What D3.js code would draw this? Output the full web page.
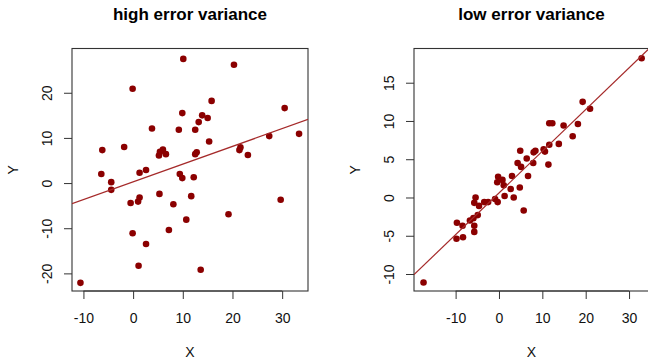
<!DOCTYPE html>
<html>
<head>
<meta charset="utf-8">
<script src="https://cdn.jsdelivr.net/npm/d3@7"></script>
<style>
  html, body { margin: 0; padding: 0; background: #fff; }
  svg { display: block; font-family: "Liberation Sans", Arial, Helvetica, sans-serif; }
</style>
</head>
<body>
<svg id="chart" width="648" height="359"></svg>
<script>
// ---- data ----
const highX = [-10.6, -6.2, -6.4, -4.4, -4.4, -1.8, -0.1, -0.5, -0.1, 1.3, 1.0, 1.3, 1.1, 2.6, 2.6, 3.8,
  5.2, 5.4, 5.3, 6.0, 6.6, 7.2, 8.1, 9.2, 9.4, 9.9, 9.9, 10.1, 10.7, 11.7, 12.2, 12.5, 12.5, 12.8,
  13.2, 13.6, 13.9, 15.0, 15.3, 15.8, 19.2, 20.3, 21.4, 21.6, 23.1, 27.4, 29.7, 30.5, 33.4];
const highY = [-22.1, 7.3, 2.0, 0.2, -1.5, 8.0, 20.9, -4.4, -11.1, 2.3, -4.1, -3.2, -18.3, 2.9, -13.5, 12.1,
  6.1, 6.9, -2.4, 7.4, 6.4, -10.4, -4.7, 11.8, 2.0, 1.1, 15.5, 27.5, -8.1, -2.9, 1.3, 11.8, 6.4, 6.8,
  13.5, -19.2, 15.0, 14.4, 9.2, 18.2, -6.9, 26.2, 7.3, 7.9, 6.2, 10.4, -3.7, 16.6, 10.9];

const lowX = [-17.4, -9.7, -9.8, -8.4, -8.3, -6.7, -5.9, -5.7, -5.7, -5.7, -5.4, -4.9, -4.6, -3.4, -2.5,
  -0.9, -0.3, -0.2, -0.4, 0.8, 1.1, 1.3, 2.7, 3.0, 3.4, 4.3, 4.8, 4.9, 5.1, 5.7, 6.4, 6.7, 7.9, 8.0,
  8.4, 10.3, 10.6, 11.4, 11.6, 11.6, 12.3, 13.8, 14.9, 17.0, 18.2, 19.3, 21.0, 32.9];
const lowY = [-11.1, -3.3, -5.4, -3.7, -5.2, -3.0, -2.7, -4.5, -3.7, -0.7, 0.0, -2.3, -1.1, -0.6, -0.6,
  -0.2, -0.6, 2.7, 2.0, 2.3, 1.6, 0.2, 1.1, 2.8, 0.0, 4.5, 1.3, 6.1, 4.0, -1.7, 5.1, 2.8, 4.5, 5.9,
  6.1, 6.3, 6.0, 4.3, 6.9, 9.7, 9.7, 7.0, 9.4, 8.0, 9.6, 12.5, 11.6, 18.2];

// fitted lines: [intercept, slope]
const fitHigh = [0.26, 0.393];
const fitLow = [0.6, 0.545];

const xTicksHigh = [-10, 0, 10, 20, 30];
const yTicksHigh = [-20, -10, 0, 10, 20];
const xTicksLow = [-10, 0, 10, 20, 30];
const yTicksLow = [-10, -5, 0, 5, 10, 15];

const titles = ["high error variance", "low error variance"];

// ---- drawing ----
const svg = d3.select("#chart");
const ptColor = "#8B0000";
const lineColor = "#A52A2A";
const fmt = d => String(d);

const panels = [
  { title: titles[0], xs: highX, ys: highY, fit: fitHigh, xt: xTicksHigh, yt: yTicksHigh,
    xDom: [-12.3, 35.2], yDom: [-23.9, 29.8], box: { l: 72, r: 308, t: 48.5, b: 291 } },
  { title: titles[1], xs: lowX, ys: lowY, fit: fitLow, xt: xTicksLow, yt: yTicksLow,
    xDom: [-19.6, 34.6], yDom: [-12.22, 19.47], box: { l: 414, r: 649, t: 48.5, b: 291 } }
];

panels.forEach((p, i) => {
  const b = p.box;
  const x = d3.scaleLinear().domain(p.xDom).range([b.l, b.r]);
  const y = d3.scaleLinear().domain(p.yDom).range([b.b, b.t]);
  const g = svg.append("g");

  const clipId = "clip" + i;
  svg.append("clipPath").attr("id", clipId)
    .append("rect").attr("x", b.l).attr("y", b.t).attr("width", b.r - b.l).attr("height", b.b - b.t);

  // title
  g.append("text").attr("x", (b.l + b.r) / 2).attr("y", 20)
    .attr("text-anchor", "middle").attr("font-weight", "bold").attr("font-size", 17)
    .attr("fill", "#000").text(p.title);

  // x axis
  const xa = d3.axisBottom(x).tickValues(p.xt).tickSize(8).tickPadding(8).tickFormat(fmt);
  const gx = g.append("g").attr("transform", `translate(0,${b.b})`).call(xa);
  gx.select(".domain").remove();
  gx.selectAll(".tick line").attr("stroke", "#333");
  gx.selectAll(".tick text").attr("font-size", 14).attr("fill", "#111")
    .attr("font-family", "Liberation Sans, Arial, sans-serif")
    .attr("dy", null).attr("y", 31.5);
  g.append("line").attr("x1", x(p.xt[0])).attr("x2", x(p.xt[p.xt.length - 1]))
    .attr("y1", b.b).attr("y2", b.b).attr("stroke", "#333");

  // y axis
  const ya = d3.axisLeft(y).tickValues(p.yt).tickSize(8).tickFormat(fmt);
  const gy = g.append("g").attr("transform", `translate(${b.l},0)`).call(ya);
  gy.select(".domain").remove();
  gy.selectAll(".tick line").attr("stroke", "#333");
  gy.selectAll(".tick text").attr("font-size", 14).attr("fill", "#111")
    .attr("font-family", "Liberation Sans, Arial, sans-serif")
    .attr("x", null).attr("dy", null).attr("text-anchor", "middle")
    .attr("transform", "translate(-20,0) rotate(-90)");

  // axis titles
  g.append("text").attr("x", (b.l + b.r) / 2).attr("y", 357).attr("text-anchor", "middle")
    .attr("font-size", 14).attr("fill", "#111").text("X");
  g.append("text").attr("transform", `translate(${b.l - 54.5},${(b.t + b.b) / 2}) rotate(-90)`)
    .attr("text-anchor", "middle").attr("font-size", 14).attr("fill", "#111").text("Y");

  // box
  g.append("rect").attr("x", b.l).attr("y", b.t).attr("width", b.r - b.l).attr("height", b.b - b.t)
    .attr("fill", "none").attr("stroke", "#333").attr("stroke-width", 1.1);

  // points
  g.append("g").selectAll("circle").data(p.xs.map((v, k) => [v, p.ys[k]])).join("circle")
    .attr("cx", d => x(d[0])).attr("cy", d => y(d[1])).attr("r", 3.3).attr("fill", ptColor);

  // regression line
  const x0 = p.xDom[0], x1 = p.xDom[1];
  g.append("line").attr("clip-path", `url(#${clipId})`)
    .attr("x1", x(x0)).attr("y1", y(p.fit[0] + p.fit[1] * x0))
    .attr("x2", x(x1)).attr("y2", y(p.fit[0] + p.fit[1] * x1))
    .attr("stroke", lineColor).attr("stroke-width", 1.2);
});
</script>
</body>
</html>
